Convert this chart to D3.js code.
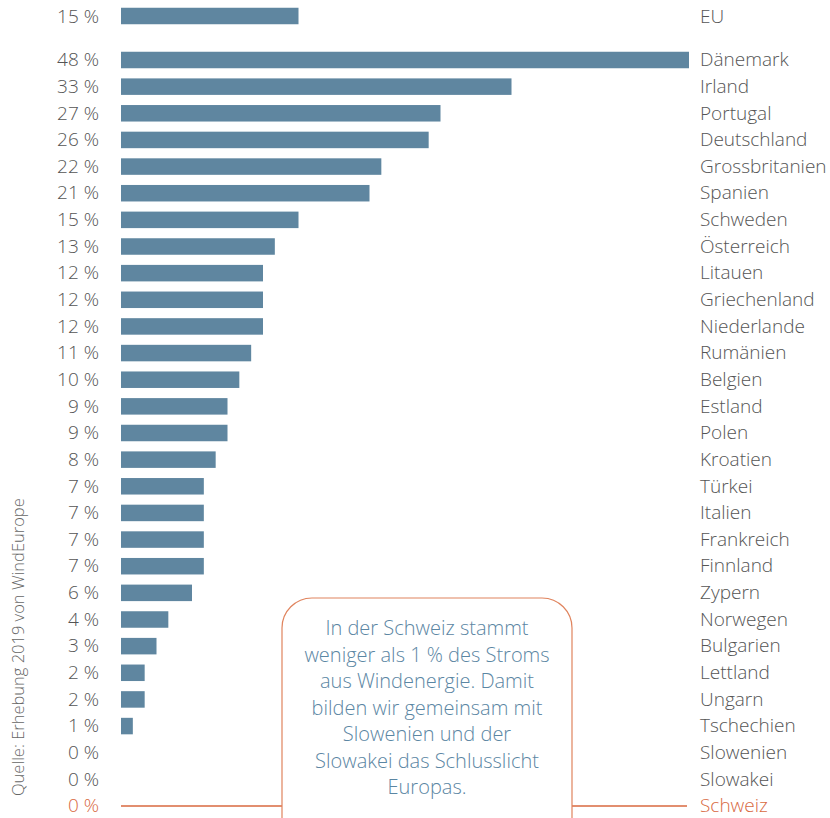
<!DOCTYPE html>
<html lang="de">
<head>
<meta charset="UTF-8">
<title>Windenergie Anteil</title>
<script src="https://d3js.org/d3.v7.min.js"></script>
<style>
  body { margin: 0; background: #fff; }
  svg text { font-family: "Open Sans", "Noto Sans", sans-serif; font-weight: 300; }
  .pct { fill: #555; font-size: 19px; text-anchor: end; }
  .land { fill: #555; font-size: 19px; }
  .hl { fill: #d8693f; }
  .note { fill: #5b86a3; font-size: 20px; text-anchor: middle; }
</style>
</head>
<body>
<div id="chart"></div>
<script>
// Anteil Windenergie am Strom (%)
var euLabel = "EU";
var euValue = 15;

var countries = ["Dänemark", "Irland", "Portugal", "Deutschland", "Grossbritanien", "Spanien",
  "Schweden", "Österreich", "Litauen", "Griechenland", "Niederlande", "Rumänien", "Belgien",
  "Estland", "Polen", "Kroatien", "Türkei", "Italien", "Frankreich", "Finnland", "Zypern",
  "Norwegen", "Bulgarien", "Lettland", "Ungarn", "Tschechien", "Slowenien", "Slowakei", "Schweiz"];
var values = [48, 33, 27, 26, 22, 21, 15, 13, 12, 12, 12, 11, 10, 9, 9, 8, 7, 7, 7, 7, 6, 4, 3, 2, 2, 1, 0, 0, 0];

var highlight = "Schweiz";
var noteLines = ["In der Schweiz stammt", "weniger als 1 % des Stroms", "aus Windenergie. Damit",
  "bilden wir gemeinsam mit", "Slowenien und der", "Slowakei das Schlusslicht", "Europas."];
var source = "Quelle: Erhebung 2019 von WindEurope";

var width = 830, height = 818;
var barColor = "#5f86a0", hlColor = "#d8693f";

var svg = d3.select("#chart").append("svg")
  .attr("width", width).attr("height", height);

var x = d3.scaleLinear().domain([0, 48]).range([121, 689]);
var y = d3.scalePoint().domain(countries).range([60, 806]);
var yEU = 16;
var barH = 16.5;

function fmt(v) { return v + " %"; }

// EU
svg.append("rect")
  .attr("x", x(0)).attr("y", yEU - barH / 2)
  .attr("width", x(euValue) - x(0)).attr("height", barH)
  .attr("fill", barColor);
svg.append("text").attr("class", "pct")
  .attr("x", 99).attr("y", yEU).attr("dy", "0.35em").text(fmt(euValue));
svg.append("text").attr("class", "land")
  .attr("x", 700).attr("y", yEU).attr("dy", "0.35em").text(euLabel);

var data = countries.map(function (c, i) { return { name: c, value: values[i] }; });

// Balken
svg.selectAll(".bar")
  .data(data.filter(function (d) { return d.value > 0; }))
  .enter().append("rect")
  .attr("class", "bar")
  .attr("x", x(0))
  .attr("y", function (d) { return y(d.name) - barH / 2; })
  .attr("width", function (d) { return x(d.value) - x(0); })
  .attr("height", barH)
  .attr("fill", barColor);

// Linie für die Schweiz
svg.append("line")
  .attr("x1", x(0)).attr("x2", x(48) - 2)
  .attr("y1", y(highlight)).attr("y2", y(highlight))
  .attr("stroke", hlColor).attr("stroke-width", 1.5);

svg.selectAll(".pct-c")
  .data(data).enter().append("text")
  .attr("class", function (d) { return d.name === highlight ? "pct hl" : "pct"; })
  .attr("x", 99)
  .attr("y", function (d) { return y(d.name); })
  .attr("dy", "0.33em")
  .text(function (d) { return fmt(d.value); });

svg.selectAll(".land-c")
  .data(data).enter().append("text")
  .attr("class", function (d) { return d.name === highlight ? "land hl" : "land"; })
  .attr("x", 700)
  .attr("y", function (d) { return y(d.name); })
  .attr("dy", "0.33em")
  .text(function (d) { return d.name; });

// Infobox
svg.append("rect")
  .attr("x", 282).attr("y", 598)
  .attr("width", 290).attr("height", 250)
  .attr("rx", 30).attr("ry", 30)
  .attr("fill", "#fff")
  .attr("stroke", "#e0845e").attr("stroke-width", 1.2);

svg.selectAll(".note")
  .data(noteLines).enter().append("text")
  .attr("class", "note")
  .attr("x", 427)
  .attr("y", function (d, i) { return 628 + i * 26.5; })
  .attr("dy", "0.35em")
  .text(function (d) { return d; });

// Quelle
svg.append("text")
  .attr("transform", "translate(24,796) rotate(-90)")
  .attr("fill", "#666")
  .style("font-size", "16.5px")
  .text(source);
</script>
</body>
</html>
